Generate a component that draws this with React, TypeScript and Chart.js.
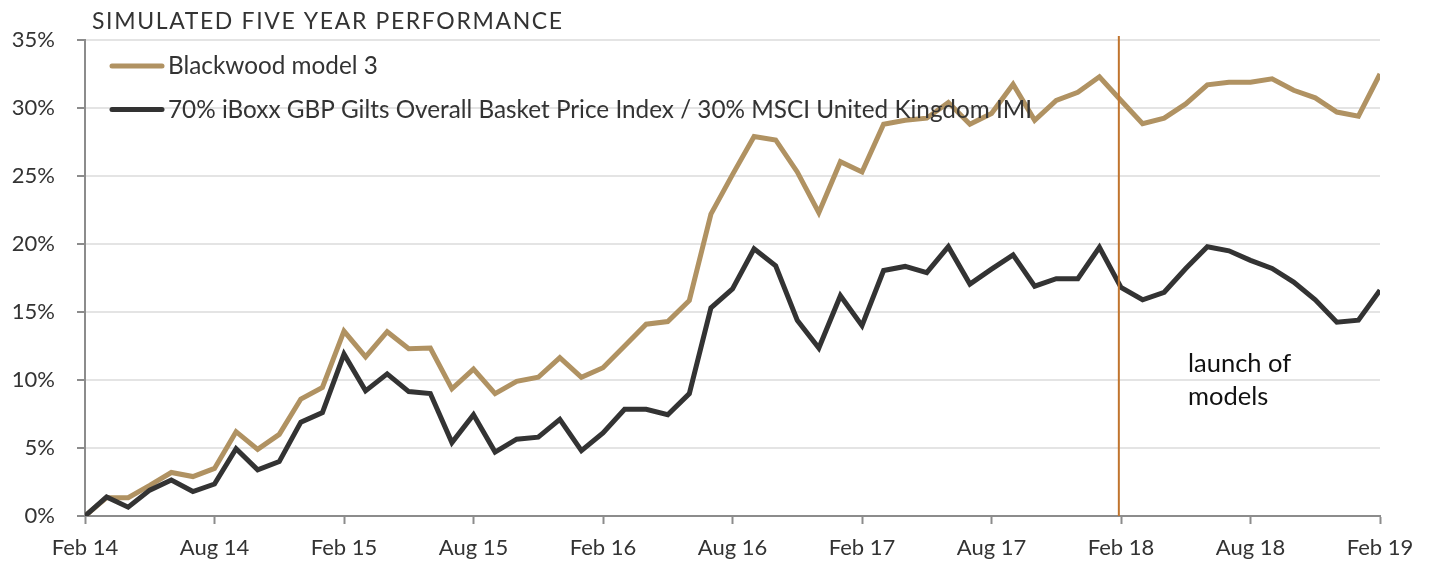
import { useEffect, useRef } from "react";
import { Chart, registerables } from "chart.js";

Chart.register(...registerables);

const tickLabels = ["Feb 14", "Aug 14", "Feb 15", "Aug 15", "Feb 16", "Aug 16", "Feb 17", "Aug 17", "Feb 18", "Aug 18", "Feb 19"];

const blackwood = [
  0, 1.35, 1.35, 2.25, 3.2, 2.9, 3.5, 6.2, 4.9, 6.0,
  8.6, 9.45, 13.6, 11.7, 13.55, 12.3, 12.35, 9.35, 10.8, 9.0,
  9.9, 10.2, 11.65, 10.2, 10.9, 12.5, 14.1, 14.3, 15.85, 22.2,
  25.1, 27.9, 27.65, 25.3, 22.3, 26.05, 25.3, 28.8, 29.1, 29.25,
  30.4, 28.8, 29.6, 31.75, 29.1, 30.55, 31.15, 32.3, 30.55, 28.85,
  29.25, 30.3, 31.7, 31.9, 31.9, 32.15, 31.3, 30.75, 29.7, 29.4,
  32.5,
];

const benchmark = [
  0, 1.4, 0.65, 1.9, 2.65, 1.8, 2.35, 4.95, 3.4, 4.0,
  6.9, 7.6, 11.9, 9.2, 10.45, 9.15, 9.0, 5.4, 7.45, 4.7,
  5.65, 5.8, 7.1, 4.8, 6.1, 7.85, 7.85, 7.45, 9.0, 15.3,
  16.7, 19.65, 18.4, 14.4, 12.35, 16.2, 14.0, 18.05, 18.35, 17.9,
  19.8, 17.05, 18.15, 19.2, 16.9, 17.45, 17.45, 19.75, 16.8, 15.9,
  16.45, 18.2, 19.8, 19.5, 18.8, 18.2, 17.2, 15.9, 14.25, 14.4,
  16.6,
];

const seriesNames = [
  "Blackwood model 3",
  "70% iBoxx GBP Gilts Overall Basket Price Index / 30% MSCI United Kingdom IMI",
];
const titleText = "SIMULATED FIVE YEAR PERFORMANCE";
const annotationLines = ["launch of", "models"];
const launchMonth = 47.9;

const GOLD = "#B09262";
const DARK = "#333333";
const AXIS = "#8c8c8c";
const FONT = "Lato, 'Open Sans', sans-serif";

export default function App() {
  const ref = useRef<HTMLCanvasElement | null>(null);

  useEffect(() => {
    const canvas = ref.current;
    if (!canvas) return;

    const overlay = {
      id: "overlay",
      afterDatasetsDraw(chart: any) {
        const { ctx, chartArea, scales } = chart;
        ctx.save();
        const lx = scales.x.getPixelForValue(launchMonth);
        ctx.strokeStyle = "#C0742E";
        ctx.lineWidth = 2;
        ctx.beginPath();
        ctx.moveTo(lx, 36);
        ctx.lineTo(lx, chartArea.bottom);
        ctx.stroke();
        ctx.restore();
      },
      afterDraw(chart: any) {
        const { ctx } = chart;
        ctx.save();
        // title, spaced to the reference width
        ctx.fillStyle = DARK;
        ctx.textBaseline = "alphabetic";
        ctx.textAlign = "left";
        ctx.font = `23px ${FONT}`;
        const w = ctx.measureText(titleText).width;
        const spacing = Math.max(0, (470 - w) / (titleText.length - 1));
        try {
          (ctx as any).letterSpacing = `${spacing.toFixed(2)}px`;
        } catch (e) {}
        ctx.fillText(titleText, 92, 28.5);
        try {
          (ctx as any).letterSpacing = "0px";
        } catch (e) {}
        // legend
        const items = [
          { color: GOLD, y: 66, base: 74, text: seriesNames[0] },
          { color: DARK, y: 109.5, base: 118, text: seriesNames[1] },
        ];
        items.forEach((it) => {
          ctx.strokeStyle = it.color;
          ctx.lineWidth = 5;
          ctx.lineCap = "round";
          ctx.beginPath();
          ctx.moveTo(112, it.y);
          ctx.lineTo(162, it.y);
          ctx.stroke();
          ctx.fillStyle = DARK;
          ctx.font = `24.3px ${FONT}`;
          ctx.fillText(it.text, 168, it.base);
        });
        // annotation
        ctx.fillStyle = "#111111";
        ctx.font = `25.5px ${FONT}`;
        ctx.fillText(annotationLines[0], 1188, 372);
        ctx.fillText(annotationLines[1], 1188, 405);
        ctx.restore();
      },
    };

    const chart = new Chart(canvas, {
      type: "line",
      data: {
        datasets: [
          {
            label: seriesNames[1],
            data: benchmark.map((v, i) => ({ x: i, y: v })),
            borderColor: DARK,
            backgroundColor: DARK,
            borderWidth: 5,
            pointRadius: 0,
            tension: 0,
            order: 0,
          },
          {
            label: seriesNames[0],
            data: blackwood.map((v, i) => ({ x: i, y: v })),
            borderColor: GOLD,
            backgroundColor: GOLD,
            borderWidth: 5,
            pointRadius: 0,
            tension: 0,
            order: 1,
          },
        ],
      },
      options: {
        animation: false,
        responsive: false,
        devicePixelRatio: 1,
        layout: { padding: { top: 40, right: 52, left: 0, bottom: 0 } },
        plugins: { legend: { display: false }, tooltip: { enabled: false }, title: { display: false } },
        scales: {
          x: {
            type: "linear",
            min: 0,
            max: 60,
            afterFit: (s: any) => {
              s.height = 48;
            },
            ticks: {
              stepSize: 6,
              autoSkip: false,
              maxRotation: 0,
              padding: 11,
              color: DARK,
              font: { family: FONT, size: 22 },
              callback: (v: any) => tickLabels[Math.round(Number(v) / 6)] ?? "",
            },
            grid: {
              drawOnChartArea: false,
              drawTicks: true,
              tickLength: 8,
              tickColor: AXIS,
              tickWidth: 2,
            },
            border: { display: true, color: AXIS, width: 2 },
          },
          y: {
            min: 0,
            max: 35,
            afterFit: (s: any) => {
              s.width = 85;
            },
            ticks: {
              stepSize: 5,
              padding: 22,
              color: DARK,
              font: { family: FONT, size: 22 },
              callback: (v: any) => `${v}%`,
            },
            grid: {
              color: "#e4e4e4",
              lineWidth: 2,
              drawTicks: true,
              tickLength: 8,
              tickColor: AXIS,
              tickWidth: 2,
            },
            border: { display: true, color: AXIS, width: 2 },
          },
        },
      },
      plugins: [overlay],
    });

    (document as any).fonts?.load?.(`22px Lato`).then(() => chart.update());

    return () => chart.destroy();
  }, []);

  return (
    <div style={{ position: "fixed", left: 0, top: 0, width: 1432, height: 564, background: "#fff" }}>
      <canvas ref={ref} width={1432} height={564} style={{ display: "block", width: 1432, height: 564 }} />
    </div>
  );
}
